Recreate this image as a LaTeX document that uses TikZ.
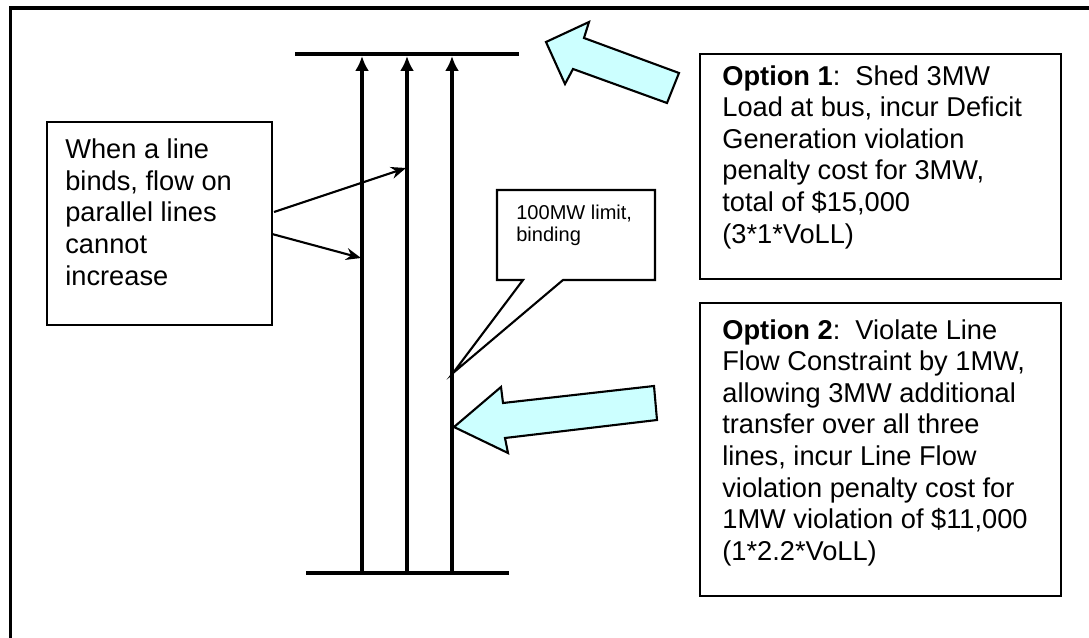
\documentclass[tikz,border=0pt]{standalone}
\usepackage{fontspec}
\setmainfont{Liberation Sans}
\usetikzlibrary{arrows.meta,calc}
\definecolor{arrowcyan}{HTML}{CCFFFF}
\tikzset{
	frame/.style={line width=2pt},
	bus/.style={line width=2.6pt},
	branch/.style={line width=2pt, -{Latex[length=0.3cm,width=0.28cm]}},
	notebox/.style={draw, line width=1.2pt, inner sep=0pt},
	notetext/.style={anchor=north west, align=left, inner sep=0pt, font=\fontsize{15.5}{18}\selectfont},
	smalltext/.style={anchor=north west, align=left, inner sep=0pt, font=\fontsize{11.4}{12.8}\selectfont},
	pointer/.style={line width=1.2pt, -{Stealth[length=0.3cm,width=0.24cm]}},
	bigarrow/.style={draw, line width=1.2pt, fill=arrowcyan, line join=miter}
}

\begin{document}
\begin{tikzpicture}[x=0.02cm, y=-0.02cm]
			%%%%% START %%%%%
			
			\useasboundingbox (0,0) rectangle (1089,638);
			\clip (0,0) rectangle (1089,638);
			\draw[frame] (10.5,700) -- (10.5,8) -- (1150,8);
			
			% buses
			\coordinate (bustopW) at (295,54);
			\coordinate (bustopE) at (519,54);
			\coordinate (busbotW) at (306,573);
			\coordinate (busbotE) at (509,573);
			\draw[bus] (bustopW) -- (bustopE);
			\draw[bus] (busbotW) -- (busbotE);
			
			% parallel lines
			\coordinate (lineAbot) at (362,573);
			\coordinate (lineAtop) at (362,56);
			\draw[branch] (lineAbot) -- (lineAtop);
			
			\coordinate (lineBbot) at (407,573);
			\coordinate (lineBtop) at (407,56);
			\draw[branch] (lineBbot) -- (lineBtop);
			
			\coordinate (lineCbot) at (452,573);
			\coordinate (lineCtop) at (452,56);
			\draw[branch] (lineCbot) -- (lineCtop);
			
			% left note
			\node[notebox, minimum width=4.5cm, minimum height=4.06cm] (bindbox) at (159.5,223.5) {};
			\node[notetext] (bindtext) at (65,138.5) {When a line\\binds, flow on\\parallel lines\\cannot\\increase};
			\coordinate (bindup) at ($(bindbox.east)+(1,-11.5)$);
			\coordinate (binddown) at ($(bindbox.east)+(-1,10.5)$);
			\coordinate (hitB) at (406,168);
			\coordinate (hitA) at (361,258);
			\draw[pointer] (bindup) -- (hitB);
			\draw[pointer] (binddown) -- (hitA);
			
			% callout on the binding line
			\coordinate (limittip) at (453,373);
			\draw[line width=1.2pt, line join=miter] (497,190) -- (655,190) -- (655,280) -- (563,280) -- (limittip) -- (523,280) -- (497,280) -- cycle;
			\node[smalltext] (limittext) at (516,204.5) {100MW limit,\\binding};
			
			% option 1
			\node[notebox, minimum width=7.22cm, minimum height=4.5cm] (opt1box) at (880.5,166.5) {};
			\node[notetext] (opt1text) at (722,65) {\textbf{Option 1}:\ \ Shed 3MW\\Load at bus, incur Deficit\\Generation violation\\penalty cost for 3MW,\\total of \$15,000\\(3*1*VoLL)};
			\draw[bigarrow] (546,42) -- (589,22) -- (584,38) -- (679,73) -- (667,103) -- (573,69) -- (565,84) -- cycle;
			
			% option 2
			\node[notebox, minimum width=7.22cm, minimum height=5.86cm] (opt2box) at (880.5,449.5) {};
			\node[notetext] (opt2text) at (722,319) {\textbf{Option 2}:\ \ Violate Line\\Flow Constraint by 1MW,\\allowing 3MW additional\\transfer over all three\\lines, incur Line Flow\\violation penalty cost for\\1MW violation of \$11,000\\(1*2.2*VoLL)};
			\draw[bigarrow] (454,427) -- (501,387) -- (503,403) -- (654,386) -- (657,420) -- (505,438) -- (508,453) -- cycle;
			
			%%%%% END %%%%%
\end{tikzpicture}
\end{document}
